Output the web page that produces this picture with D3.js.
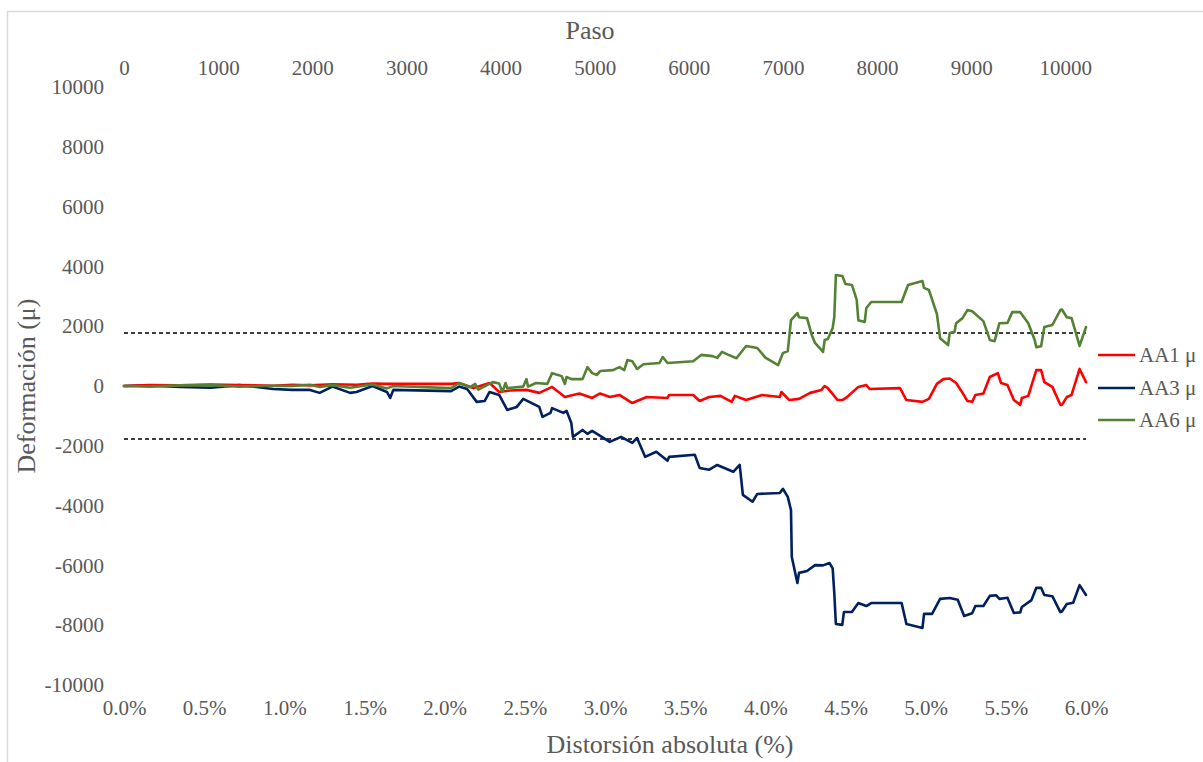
<!DOCTYPE html>
<html>
<head>
<meta charset="utf-8">
<script src="https://cdn.jsdelivr.net/npm/d3@7"></script>
<style>
  html, body { margin: 0; padding: 0; background: #fff; }
  svg { display: block; }
  svg text { font-family: "Liberation Serif", "Times New Roman", Times, serif; }
</style>
</head>
<body>
<svg id="chart" width="1203" height="762"></svg>
<script>
// ---- Data ----
const xTicks = [0, 0.5, 1, 1.5, 2, 2.5, 3, 3.5, 4, 4.5, 5, 5.5, 6];
const stepTicks = [0, 1000, 2000, 3000, 4000, 5000, 6000, 7000, 8000, 9000, 10000];
const yTicks = [-10000, -8000, -6000, -4000, -2000, 0, 2000, 4000, 6000, 8000, 10000];
const stepMax = 10220;
const limitValue = 1770;
const seriesNames = ["AA1 μ", "AA3 μ", "AA6 μ"];
const seriesColors = ["#FF0000", "#002060", "#548235"];

const aa1X = [0, 0.16, 0.35, 0.54, 0.72, 0.93, 1.05, 1.16, 1.30, 1.45, 1.55, 1.64, 2.04, 2.09, 2.18, 2.28, 2.34, 2.41, 2.51, 2.59, 2.67, 2.75, 2.84, 2.92, 2.97, 3.03, 3.09, 3.17, 3.26, 3.39, 3.40, 3.55, 3.59, 3.65, 3.72, 3.79, 3.81, 3.88, 3.98, 4.09, 4.10, 4.15, 4.21, 4.28, 4.35, 4.37, 4.39, 4.45, 4.48, 4.51, 4.58, 4.63, 4.65, 4.84, 4.88, 4.98, 5.02, 5.07, 5.11, 5.15, 5.19, 5.23, 5.26, 5.29, 5.31, 5.36, 5.40, 5.45, 5.47, 5.51, 5.55, 5.59, 5.60, 5.64, 5.69, 5.72, 5.74, 5.79, 5.84, 5.85, 5.88, 5.91, 5.96, 6.0];
const aa1Y = [0, 30, 20, 50, 30, 10, 40, 20, 60, 40, 80, 70, 70, 100, -70, 100, -200, -150, -130, -230, -30, -370, -250, -400, -250, -370, -300, -570, -370, -400, -300, -300, -500, -370, -330, -530, -330, -470, -300, -370, -200, -470, -430, -230, -130, 0, -70, -470, -470, -370, -30, 30, -100, -70, -470, -530, -430, 70, 230, 250, 100, -230, -500, -530, -300, -250, 300, 430, 100, 30, -470, -630, -400, -330, 530, 530, 130, -30, -630, -630, -370, -300, 570, 130];

const aa3X = [0, 0.16, 0.35, 0.54, 0.72, 0.93, 1.05, 1.16, 1.22, 1.30, 1.41, 1.45, 1.55, 1.64, 1.66, 1.68, 2.04, 2.09, 2.14, 2.20, 2.25, 2.28, 2.34, 2.39, 2.45, 2.49, 2.59, 2.61, 2.66, 2.67, 2.74, 2.76, 2.79, 2.80, 2.86, 2.89, 2.92, 3.03, 3.10, 3.17, 3.20, 3.25, 3.32, 3.39, 3.40, 3.56, 3.59, 3.65, 3.70, 3.80, 3.84, 3.86, 3.92, 3.95, 4.09, 4.11, 4.14, 4.16, 4.165, 4.20, 4.21, 4.26, 4.31, 4.36, 4.40, 4.42, 4.43, 4.44, 4.48, 4.49, 4.54, 4.58, 4.63, 4.66, 4.85, 4.88, 4.98, 4.99, 5.04, 5.09, 5.15, 5.20, 5.24, 5.29, 5.31, 5.36, 5.40, 5.44, 5.46, 5.51, 5.55, 5.59, 5.60, 5.66, 5.69, 5.72, 5.74, 5.79, 5.84, 5.85, 5.88, 5.92, 5.96, 6.0];
const aa3Y = [0, 20, -30, -60, 30, -100, -130, -130, -230, -20, -230, -200, 0, -200, -400, -130, -170, -20, -100, -530, -500, -200, -300, -800, -700, -430, -700, -1030, -900, -740, -900, -830, -1240, -1700, -1470, -1600, -1500, -1870, -1700, -1900, -1740, -2370, -2200, -2500, -2370, -2300, -2740, -2800, -2640, -2870, -2640, -3640, -3870, -3610, -3580, -3440, -3710, -4150, -5720, -6590, -6250, -6190, -5990, -6000, -5920, -6100, -6920, -7960, -7990, -7560, -7560, -7260, -7360, -7260, -7260, -7960, -8090, -7620, -7620, -7120, -7090, -7150, -7690, -7600, -7360, -7360, -7020, -7000, -7120, -7080, -7590, -7570, -7390, -7160, -6750, -6750, -6990, -7030, -7560, -7540, -7290, -7250, -6660, -6990];

const aa6X = [0, 0.16, 0.35, 0.54, 0.72, 0.93, 1.05, 1.16, 1.22, 1.30, 1.41, 1.55, 1.64, 1.68, 2.04, 2.09, 2.16, 2.19, 2.21, 2.30, 2.34, 2.36, 2.38, 2.39, 2.49, 2.51, 2.52, 2.57, 2.64, 2.67, 2.73, 2.75, 2.76, 2.79, 2.86, 2.89, 2.92, 2.95, 2.97, 3.05, 3.09, 3.12, 3.14, 3.17, 3.20, 3.24, 3.34, 3.36, 3.39, 3.55, 3.60, 3.67, 3.70, 3.73, 3.77, 3.82, 3.88, 3.95, 4.00, 4.08, 4.11, 4.14, 4.16, 4.20, 4.21, 4.26, 4.29, 4.31, 4.36, 4.37, 4.39, 4.42, 4.43, 4.44, 4.48, 4.50, 4.54, 4.57, 4.58, 4.62, 4.63, 4.66, 4.85, 4.89, 4.98, 4.99, 5.02, 5.07, 5.09, 5.14, 5.15, 5.18, 5.19, 5.23, 5.26, 5.29, 5.36, 5.40, 5.43, 5.46, 5.51, 5.54, 5.59, 5.64, 5.68, 5.69, 5.72, 5.74, 5.79, 5.84, 5.85, 5.88, 5.91, 5.96, 6.0];
const aa6Y = [0, -20, 20, 30, -20, 10, 0, 40, -30, 30, -60, 50, -80, 0, -70, 100, -40, 70, -120, 130, 80, -200, 100, -70, -20, 230, -20, 100, 70, 430, 330, 70, 300, 230, 230, 630, 430, 370, 500, 530, 630, 530, 870, 830, 570, 730, 770, 970, 770, 830, 1040, 1000, 940, 1140, 1040, 930, 1340, 1270, 950, 700, 1100, 1170, 2200, 2440, 2300, 2270, 1700, 1440, 1140, 1540, 1570, 1940, 2300, 3710, 3680, 3410, 3380, 2880, 2200, 2140, 2610, 2810, 2810, 3380, 3510, 3280, 3210, 2410, 1600, 1370, 1770, 1810, 2100, 2270, 2540, 2500, 2170, 1540, 1500, 2100, 2110, 2470, 2470, 2100, 1540, 1300, 1330, 1970, 2040, 2540, 2560, 2300, 2270, 1340, 1970];

// ---- Drawing ----
const svg = d3.select("#chart");
const textColor = "#595959";
const serif = "Liberation Serif";
const plotL = 124, plotR = 1086, plotT = 87, plotB = 685;

const x = d3.scaleLinear().domain([0, 6]).range([plotL, plotR]);
const xTop = d3.scaleLinear().domain([0, stepMax]).range([plotL, plotR]);
const y = d3.scaleLinear().domain([-10000, 10000]).range([plotB, plotT]);

// chart border (only left and top visible in crop)
svg.append("rect")
  .attr("x", 7.5).attr("y", 11.5)
  .attr("width", 1400).attr("height", 900)
  .attr("fill", "none").attr("stroke", "#d9d9d9").attr("stroke-width", 1.5);

function styleAxis(g) {
  g.attr("font-family", serif).attr("font-size", 21);
  g.select(".domain").remove();
  g.selectAll(".tick line").remove();
  g.selectAll(".tick text")
    .attr("fill", textColor)
    .attr("font-family", serif)
    .attr("font-size", 21);
}

// bottom axis
svg.append("g")
  .attr("transform", "translate(0,700)")
  .call(d3.axisBottom(x).tickValues(xTicks).tickSize(0).tickPadding(0)
    .tickFormat(d => d.toFixed(1) + "%"))
  .call(styleAxis)
  .selectAll(".tick text").attr("dy", "0.71em");

// top axis (Paso)
svg.append("g")
  .attr("transform", "translate(0,75)")
  .call(d3.axisTop(xTop).tickValues(stepTicks).tickSize(0).tickPadding(0)
    .tickFormat(d => String(d)))
  .call(styleAxis);

// left axis
svg.append("g")
  .attr("transform", "translate(104,0)")
  .call(d3.axisLeft(y).tickValues(yTicks).tickSize(0).tickPadding(0)
    .tickFormat(d => String(d)))
  .call(styleAxis);

// axis titles
svg.append("text")
  .attr("x", 590).attr("y", 39)
  .attr("text-anchor", "middle")
  .attr("font-family", serif)
  .attr("fill", textColor).attr("font-size", 26)
  .text("Paso");

svg.append("text")
  .attr("x", 670).attr("y", 753)
  .attr("text-anchor", "middle")
  .attr("font-family", serif)
  .attr("fill", textColor).attr("font-size", 26)
  .text("Distorsión absoluta (%)");

svg.append("text")
  .attr("transform", "translate(35,386) rotate(-90)")
  .attr("text-anchor", "middle")
  .attr("font-family", serif)
  .attr("fill", textColor).attr("font-size", 26)
  .text("Deformación (μ)");

// dashed limit lines
[limitValue, -limitValue].forEach(v => {
  svg.append("line")
    .attr("x1", x(0)).attr("x2", x(6))
    .attr("y1", y(v)).attr("y2", y(v))
    .attr("stroke", "#000").attr("stroke-width", 1.5)
    .attr("stroke-dasharray", "4,3");
});

// series lines
const seriesData = [
  aa1X.map((v, i) => [v, aa1Y[i]]),
  aa3X.map((v, i) => [v, aa3Y[i]]),
  aa6X.map((v, i) => [v, aa6Y[i]])
];
const line = d3.line().x(d => x(d[0])).y(d => y(d[1]));
const order = [1, 0, 2];
order.forEach(i => {
  svg.append("path")
    .datum(seriesData[i])
    .attr("d", line)
    .attr("fill", "none")
    .attr("stroke", seriesColors[i])
    .attr("stroke-width", 2.6)
    .attr("stroke-linejoin", "round")
    .attr("stroke-linecap", "round");
});

// legend
const legendY = [355, 388, 420];
seriesNames.forEach((name, i) => {
  svg.append("line")
    .attr("x1", 1098).attr("x2", 1135)
    .attr("y1", legendY[i]).attr("y2", legendY[i])
    .attr("stroke", seriesColors[i]).attr("stroke-width", 2.6);
  svg.append("text")
    .attr("x", 1139).attr("y", legendY[i] + 7)
    .attr("font-family", serif)
    .attr("fill", textColor).attr("font-size", 21)
    .text(name);
});
</script>
</body>
</html>
